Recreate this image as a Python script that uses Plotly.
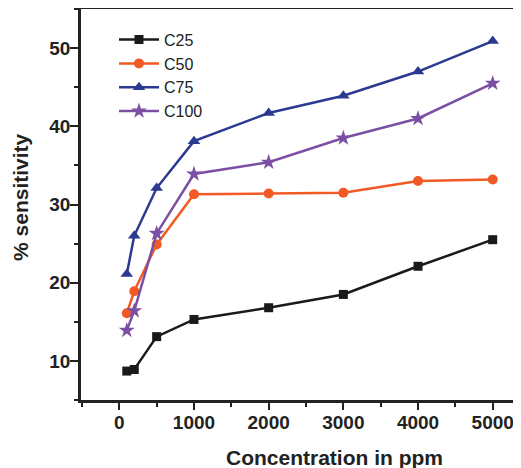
import plotly.graph_objects as go

conc = [100, 200, 500, 1000, 2000, 3000, 4000, 5000]
c25 = [8.7, 8.9, 13.1, 15.3, 16.8, 18.5, 22.1, 25.5]
c50 = [16.1, 18.9, 24.9, 31.3, 31.4, 31.5, 33.0, 33.2]
c75 = [21.1, 26.0, 32.1, 38.1, 41.7, 43.9, 47.0, 50.9]
c100 = [13.9, 16.4, 26.3, 33.9, 35.4, 38.5, 41.0, 45.5]
x_ticks = [0, 1000, 2000, 3000, 4000, 5000]
y_ticks = [10, 20, 30, 40, 50]

series = [
    ("C25", c25, "#1a1a1a", "square", 9),
    ("C50", c50, "#f15a24", "circle", 10),
    ("C75", c75, "#2b3990", "triangle-up", 11),
    ("C100", c100, "#7b4fa3", "star", 12),
]

fig = go.Figure()
for name, ys, col, sym, sz in series:
    fig.add_trace(go.Scatter(
        x=conc, y=ys, name=name, mode="lines+markers",
        line=dict(color=col, width=2.5),
        marker=dict(symbol=sym, size=sz, color=col),
    ))

font_fam = "Liberation Sans, Arial, sans-serif"
ink = "#222"
# page body has an 8px margin, so the figure is sized/offset to compensate
fig.update_layout(
    width=513, height=460,
    margin=dict(l=73, r=0, t=1, b=68, autoexpand=False),
    paper_bgcolor="white", plot_bgcolor="white",
    font=dict(family=font_fam, color=ink),
    showlegend=True,
    legend=dict(x=0.075, y=0.965, xanchor="left", yanchor="top",
                font=dict(size=16, color=ink), bgcolor="rgba(0,0,0,0)",
                tracegroupgap=0, itemwidth=40),
    xaxis=dict(
        range=[-513, 5379], tickvals=x_ticks, automargin=False,
        ticks="outside", ticklen=7, tickwidth=2, tickcolor=ink,
        showline=True, linewidth=2.5, linecolor=ink, mirror=True,
        showgrid=False, zeroline=False, ticklabelstandoff=-4,
        tickfont=dict(size=19, weight="bold", color=ink),
        minor=dict(ticks="outside", ticklen=4, tickwidth=2, tickcolor=ink, dtick=500, tick0=0, showgrid=False),
    ),
    yaxis=dict(
        range=[5, 55], tickvals=y_ticks, automargin=False,
        ticks="outside", ticklen=8, tickwidth=2, tickcolor=ink,
        showline=True, linewidth=2.5, linecolor=ink,
        showgrid=False, zeroline=False, ticklabelstandoff=-4,
        tickfont=dict(size=19, weight="bold", color=ink),
        minor=dict(ticks="outside", ticklen=4, tickwidth=2, tickcolor=ink, dtick=5, tick0=0, showgrid=False),
    ),
    annotations=[
        dict(text="Concentration in ppm", xref="paper", yref="paper",
             x=0.575, y=-0.146, xanchor="center", yanchor="middle", showarrow=False,
             font=dict(size=21, weight="bold", color=ink)),
        dict(text="% sensitivity", xref="paper", yref="paper", textangle=-90,
             x=-0.138, y=0.52, xanchor="center", yanchor="middle", showarrow=False,
             font=dict(size=21, weight="bold", color=ink)),
    ],
)
fig.write_html("out.html")
